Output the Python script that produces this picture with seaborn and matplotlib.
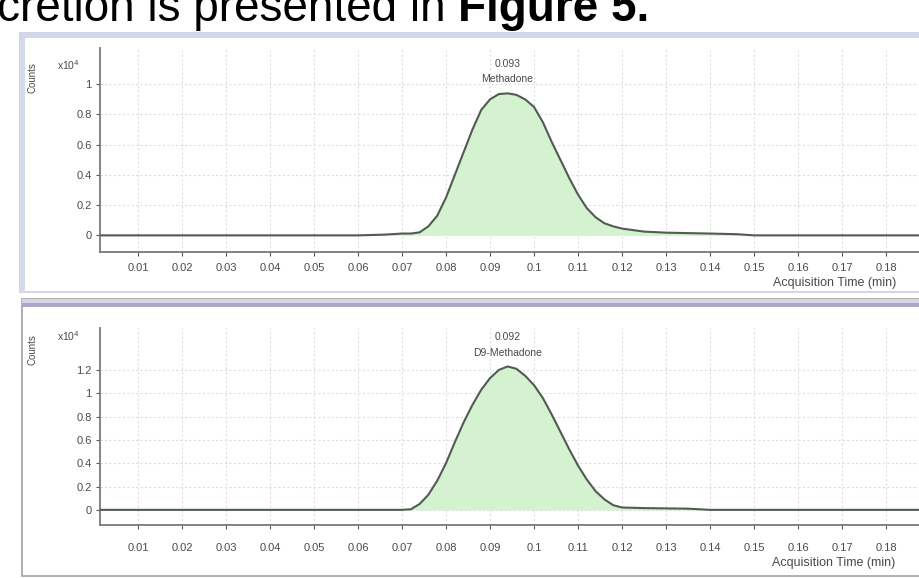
import matplotlib
matplotlib.use("Agg")
import matplotlib.pyplot as plt
import seaborn as sns
import pandas as pd
from matplotlib.patches import Rectangle

# ---------------- data ----------------
top_time = [0.0014, 0.060, 0.066, 0.070, 0.072, 0.074, 0.076, 0.078, 0.080, 0.082,
            0.084, 0.086, 0.088, 0.090, 0.092, 0.094, 0.096, 0.098, 0.100, 0.102,
            0.104, 0.106, 0.108, 0.110, 0.112, 0.114, 0.116, 0.118, 0.120, 0.125,
            0.130, 0.140, 0.146, 0.150, 0.1875]
top_counts = [0.0, 0.0, 0.005, 0.012, 0.012, 0.02, 0.06, 0.13, 0.25, 0.40,
              0.55, 0.70, 0.83, 0.90, 0.935, 0.94, 0.93, 0.90, 0.85, 0.75,
              0.62, 0.50, 0.38, 0.27, 0.18, 0.12, 0.08, 0.06, 0.045, 0.025,
              0.018, 0.012, 0.008, 0.0, 0.0]
bot_time = [0.0014, 0.070, 0.072, 0.074, 0.076, 0.078, 0.080, 0.082, 0.084, 0.086,
            0.088, 0.090, 0.092, 0.094, 0.096, 0.098, 0.100, 0.102, 0.104, 0.106,
            0.108, 0.110, 0.112, 0.114, 0.116, 0.118, 0.120, 0.125, 0.135, 0.140,
            0.1875]
bot_counts = [0.0, 0.0, 0.005, 0.05, 0.13, 0.25, 0.40, 0.58, 0.75, 0.90,
              1.03, 1.13, 1.20, 1.23, 1.21, 1.15, 1.07, 0.96, 0.82, 0.67,
              0.52, 0.38, 0.26, 0.16, 0.09, 0.04, 0.02, 0.015, 0.01, 0.0,
              0.0]

x_ticks = [0.01, 0.02, 0.03, 0.04, 0.05, 0.06, 0.07, 0.08, 0.09, 0.10,
           0.11, 0.12, 0.13, 0.14, 0.15, 0.16, 0.17, 0.18]
x_tick_labels = ["0.01", "0.02", "0.03", "0.04", "0.05", "0.06", "0.07", "0.08", "0.09",
                 "0.1", "0.11", "0.12", "0.13", "0.14", "0.15", "0.16", "0.17", "0.18"]
top_yticks = [0, 0.2, 0.4, 0.6, 0.8, 1.0]
top_ytick_labels = ["0", "0.2", "0.4", "0.6", "0.8", "1"]
bot_yticks = [0, 0.2, 0.4, 0.6, 0.8, 1.0, 1.2]
bot_ytick_labels = ["0", "0.2", "0.4", "0.6", "0.8", "1", "1.2"]

top_peak = {"rt": "0.093", "name": "Methadone", "t": 0.094, "y": 0.94}
bot_peak = {"rt": "0.092", "name": "D9-Methadone", "t": 0.094, "y": 1.23}

# ---------------- figure ----------------
sns.set_theme(style="white")
plt.rcParams["font.family"] = ["Liberation Sans", "DejaVu Sans"]

W, H = 919, 578
fig = plt.figure(figsize=(W / 100, H / 100), dpi=100)
fig.patch.set_facecolor("white")


def fx(px):
    return px / W


def fy(py):
    return 1 - py / H


# panel frames
fig.add_artist(Rectangle((fx(20), fy(292)), fx(919) - fx(20) + 0.01, fy(33) - fy(292),
                         transform=fig.transFigure, facecolor="white",
                         edgecolor="#c9cce3", lw=1.2, zorder=0))
fig.add_artist(Rectangle((fx(20), fy(292)), fx(5), fy(33) - fy(292),
                         transform=fig.transFigure, facecolor="#d6d8ec",
                         edgecolor="none", zorder=0.5))
fig.add_artist(Rectangle((fx(20), fy(38)), fx(919), fy(33) - fy(38),
                         transform=fig.transFigure, facecolor="#d3d6ea",
                         edgecolor="none", zorder=0.5))
fig.add_artist(Rectangle((fx(22), fy(576)), fx(919) - fx(22) + 0.01, fy(299) - fy(576),
                         transform=fig.transFigure, facecolor="white",
                         edgecolor="#a3a3a3", lw=1.2, zorder=0))
fig.add_artist(Rectangle((fx(22), fy(303)), fx(919), fy(299) - fy(303),
                         transform=fig.transFigure, facecolor="#d5d4e8",
                         edgecolor="none", zorder=0.5))
fig.add_artist(Rectangle((fx(22), fy(307)), fx(919), fy(303) - fy(307),
                         transform=fig.transFigure, facecolor="#a9a6c8",
                         edgecolor="none", zorder=0.5))

# header text (cut off at top of the picture, as in the reference)
t1 = fig.text(fx(-3), fy(21), "cretion is presented in ", fontsize=33,
              color="black", va="baseline", ha="left")
fig.canvas.draw()
bb = t1.get_window_extent()
fig.text(bb.x1 / W, fy(21), "Figure 5.", fontsize=33, fontweight="bold",
         color="black", va="baseline", ha="left")


def panel(rect, t, y, yticks, ylabels, ylim, peak, xpad):
    ax = fig.add_axes(rect)
    ax.set_facecolor("none")
    df = pd.DataFrame({"t": t, "y": y})
    ax.fill_between(df["t"], 0, df["y"], color="#d4f2cf", lw=0, zorder=1)
    sns.lineplot(data=df, x="t", y="y", ax=ax, color="#505c50", lw=1.5, zorder=3)
    ax.set_xlim(0.00136, 0.1875)
    ax.set_ylim(*ylim)
    ax.set_xticks(x_ticks)
    ax.set_xticklabels(x_tick_labels)
    ax.set_yticks(yticks)
    ax.set_yticklabels(ylabels)
    ax.set_xlabel("")
    ax.set_ylabel("")
    ax.grid(True, color="#dedede", lw=0.8, ls=(0, (2, 2)), zorder=0)
    for s in ["top", "right"]:
        ax.spines[s].set_visible(False)
    for s in ["left", "bottom"]:
        ax.spines[s].set_color("#7a7a7a")
        ax.spines[s].set_linewidth(1.3)
    ax.tick_params(axis="both", direction="out", length=3, width=0.8, color="#555555",
                   labelsize=8, labelcolor="#4a4a4a")
    ax.tick_params(axis="x", pad=xpad)
    ax.tick_params(axis="y", pad=3)
    ax.tick_params(left=True, bottom=True)
    ax.annotate(peak["name"], xy=(peak["t"], peak["y"]), xytext=(0, 10),
                textcoords="offset points", ha="center", va="center",
                fontsize=7.5, color="#4a4a4a")
    ax.annotate(peak["rt"], xy=(peak["t"], peak["y"]), xytext=(0, 21),
                textcoords="offset points", ha="center", va="center",
                fontsize=7.5, color="#4a4a4a")
    return ax


ax1 = panel([fx(100), fy(252), fx(919) - fx(100), fy(48) - fy(252)],
            top_time, top_counts, top_yticks, top_ytick_labels, (-0.11, 1.24),
            top_peak, 5)
ax2 = panel([fx(100), fy(525), fx(919) - fx(100), fy(328) - fy(525)],
            bot_time, bot_counts, bot_yticks, bot_ytick_labels, (-0.13, 1.56),
            bot_peak, 10)

# scale factor, y-label and x-label texts
for ypx in [65, 336]:
    fig.text(fx(69), fy(ypx), r"x10$^4$", fontsize=7.5, color="#4a4a4a",
             ha="center", va="center")
for cpx in [78, 350]:
    fig.text(fx(33), fy(cpx), "Counts", fontsize=7, color="#4a4a4a",
             rotation=90, ha="center", va="center")
fig.text(fx(773), fy(283), "Acquisition Time (min)", fontsize=9, color="#4a4a4a",
         ha="left", va="center")
fig.text(fx(772), fy(563), "Acquisition Time (min)", fontsize=9, color="#4a4a4a",
         ha="left", va="center")

fig.savefig("out.png", dpi=100, facecolor="white")
